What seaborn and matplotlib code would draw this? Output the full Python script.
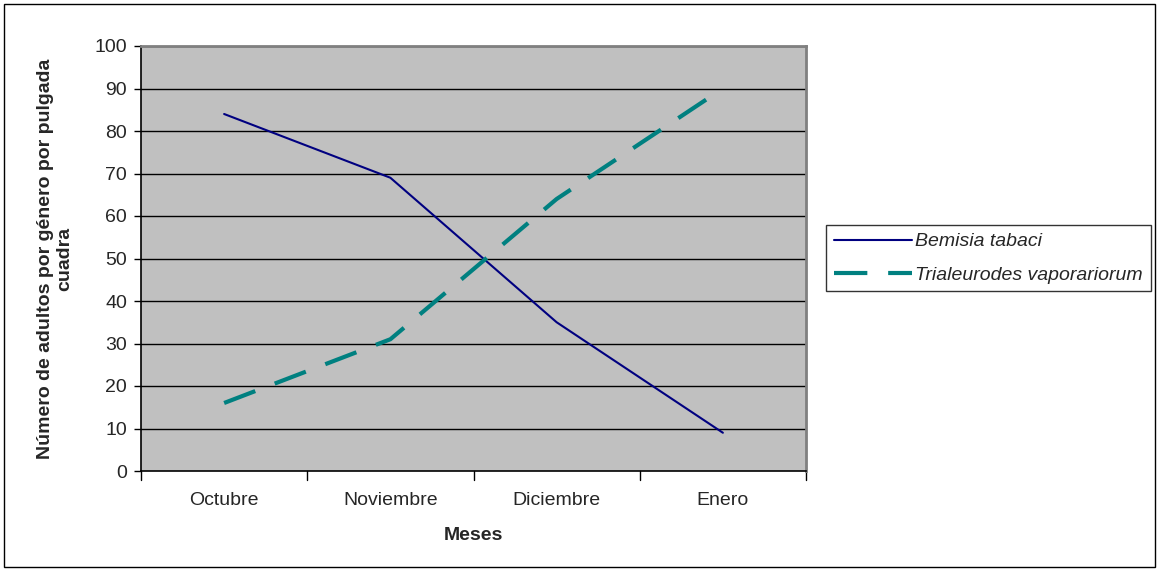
import matplotlib
matplotlib.use("Agg")
import matplotlib.pyplot as plt
import seaborn as sns
import pandas as pd
from matplotlib.patches import Rectangle
from matplotlib.lines import Line2D

meses = ["Octubre", "Noviembre", "Diciembre", "Enero"]
bemisia = [84, 69, 35, 9]
trialeurodes = [16, 31, 64, 90]
series_names = ["Bemisia tabaci", "Trialeurodes vaporariorum"]
yticks = list(range(0, 101, 10))

df = pd.DataFrame({
    "Mes": meses * 2,
    "x": list(range(len(meses))) * 2,
    "valor": bemisia + trialeurodes,
    "serie": [series_names[0]] * len(meses) + [series_names[1]] * len(meses),
})

sns.set_style("white")
plt.rcParams["font.family"] = ["Liberation Sans", "DejaVu Sans"]
FS = 14

fig = plt.figure(figsize=(11.59, 5.71), dpi=100)
ax = fig.add_axes([141 / 1159, 1 - 471 / 571, 665 / 1159, 425 / 571])
ax.set_facecolor("#C0C0C0")

palette = {series_names[0]: "#000080", series_names[1]: "#008080"}
sns.lineplot(data=df, x="x", y="valor", hue="serie", ax=ax, palette=palette,
             legend=False, sort=False)
lines = ax.get_lines()
lines[0].set_linewidth(1.5)
lines[1].set_linewidth(3.0)
lines[1].set_dashes((8, 5))
lines[1].set_dash_capstyle("butt")

ax.set_xlim(-0.5, len(meses) - 0.5)
ax.set_ylim(0, 100)
ax.set_yticks(yticks)
ax.set_yticklabels([str(v) for v in yticks], fontsize=FS)
for v in yticks[1:]:
    ax.axhline(v, color="black", lw=1.0, zorder=0.5)

ax.set_xticks(range(len(meses)))
ax.set_xticklabels(meses, fontsize=FS)
ax.tick_params(axis="x", length=0, pad=15)
ax.tick_params(axis="y", length=5, width=1, color="black", direction="out", left=True, pad=5)
for b in [i - 0.5 for i in range(len(meses) + 1)]:
    ax.plot([b, b], [0, -2.2], color="black", lw=1, clip_on=False)

for side in ["left", "bottom"]:
    ax.spines[side].set_color("black")
    ax.spines[side].set_linewidth(1.2)
for side in ["top", "right"]:
    ax.spines[side].set_color("#808080")
    ax.spines[side].set_linewidth(2)

ax.set_xlabel("Meses", fontsize=FS, fontweight="bold", labelpad=13)
ax.set_ylabel("Número de adultos por género por pulgada\ncuadra", fontsize=FS,
              fontweight="bold", labelpad=15, linespacing=1.2)

handles = [Line2D([], [], color="#000080", lw=1.5),
           Line2D([], [], color="#008080", lw=3.0, dashes=(8, 5))]
leg = fig.legend(handles, series_names, loc="upper left",
                 bbox_to_anchor=(826 / 1159, 1 - 225 / 571),
                 frameon=True, fancybox=False, edgecolor="black",
                 prop={"size": FS, "style": "italic"}, handlelength=4.0,
                 handletextpad=0.2, borderaxespad=0, borderpad=0.4,
                 labelspacing=0.8)
leg.get_frame().set_linewidth(1)

fig.patches.append(Rectangle((4 / 1159, 4 / 571), 1151 / 1159, 563 / 571,
                             transform=fig.transFigure, fill=False,
                             edgecolor="black", lw=1))

fig.savefig("out.png", dpi=100)
